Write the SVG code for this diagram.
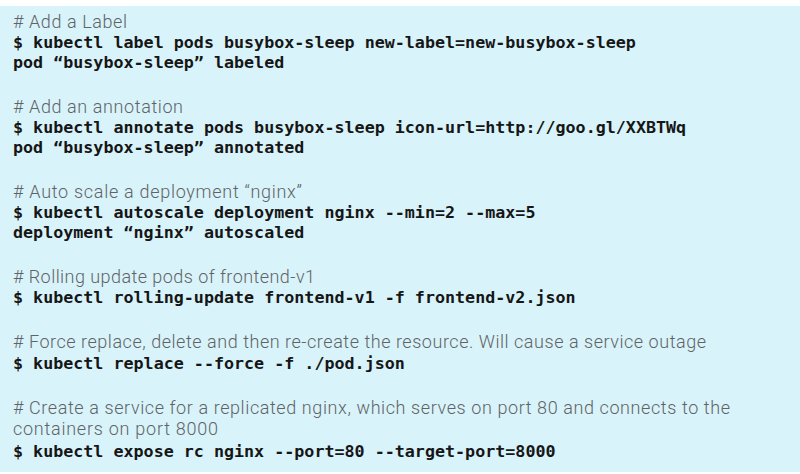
<svg xmlns="http://www.w3.org/2000/svg" width="800" height="474" viewBox="0 0 800 474">
  <style>
    .bg { fill: #d8f3fa; }
    .cm { font-family: Roboto, "Open Sans", "DejaVu Sans", sans-serif; font-weight: 300; font-size: 18px; fill: #5f6366; }
    .cd { font-family: "DejaVu Sans Mono", "Liberation Mono", monospace; font-weight: bold; font-size: 16.7px; fill: #161616; }
  </style>
  <rect class="bg" x="0" y="6" width="800" height="466"/>
  <g id="label-block">
    <text class="cm" x="13" y="28" textLength="114"># Add a Label</text>
    <text class="cd" x="13" y="48">$ kubectl label pods busybox-sleep new-label=new-busybox-sleep</text>
    <text class="cd" x="13" y="68">pod “busybox-sleep” labeled</text>
  </g>
  <g id="annotate-block">
    <text class="cm" x="13" y="113" textLength="170"># Add an annotation</text>
    <text class="cd" x="13" y="133">$ kubectl annotate pods busybox-sleep icon-url=http://goo.gl/XXBTWq</text>
    <text class="cd" x="13" y="153">pod “busybox-sleep” annotated</text>
  </g>
  <g id="autoscale-block">
    <text class="cm" x="13" y="198" textLength="289"># Auto scale a deployment “nginx”</text>
    <text class="cd" x="13" y="218">$ kubectl autoscale deployment nginx --min=2 --max=5</text>
    <text class="cd" x="13" y="238">deployment “nginx” autoscaled</text>
  </g>
  <g id="rolling-block">
    <text class="cm" x="13" y="283" textLength="302"># Rolling update pods of frontend-v1</text>
    <text class="cd" x="13" y="303">$ kubectl rolling-update frontend-v1 -f frontend-v2.json</text>
  </g>
  <g id="replace-block">
    <text class="cm" x="13" y="348" textLength="693"># Force replace, delete and then re-create the resource. Will cause a service outage</text>
    <text class="cd" x="13" y="369">$ kubectl replace --force -f ./pod.json</text>
  </g>
  <g id="expose-block">
    <text class="cm" x="13" y="414" textLength="717"># Create a service for a replicated nginx, which serves on port 80 and connects to the</text>
    <text class="cm" x="13" y="435" textLength="205">containers on port 8000</text>
    <text class="cd" x="13" y="457">$ kubectl expose rc nginx --port=80 --target-port=8000</text>
  </g>
</svg>
